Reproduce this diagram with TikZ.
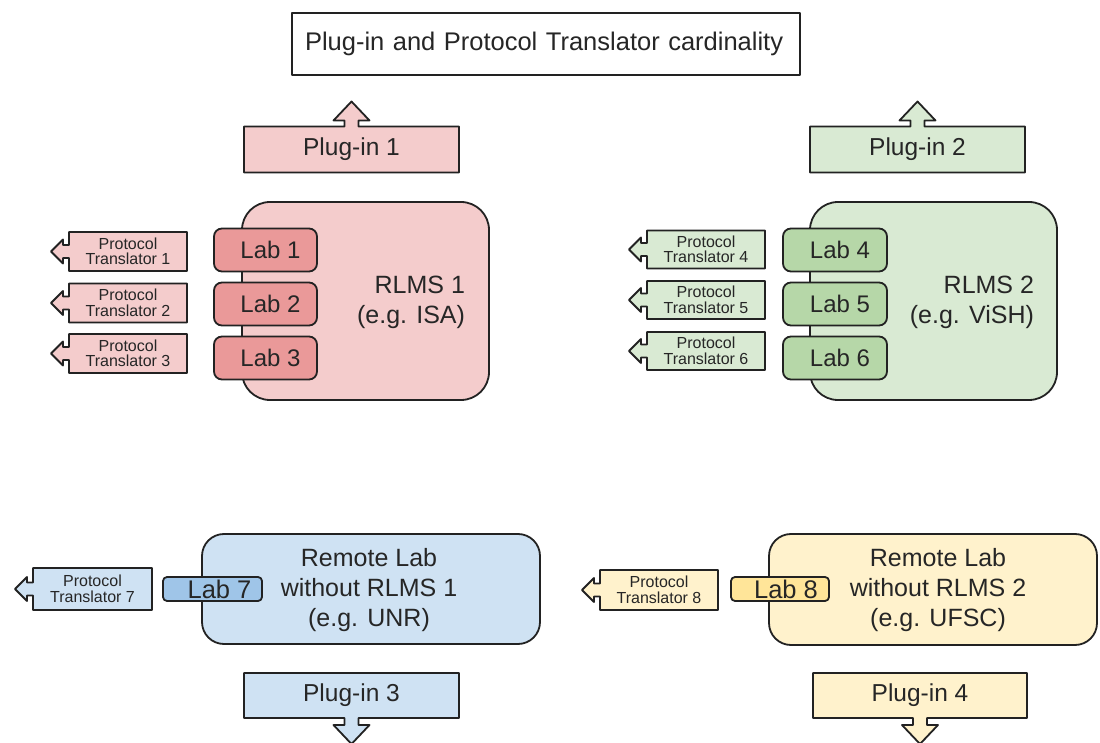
\documentclass[tikz,border=0pt]{standalone}
\usepackage{fontspec}
\setmainfont{Liberation Sans}
\usetikzlibrary{backgrounds}
\definecolor{redL}{HTML}{F4CCCC}
\definecolor{redD}{HTML}{EA9999}
\definecolor{greenL}{HTML}{D9EAD3}
\definecolor{greenD}{HTML}{B6D7A8}
\definecolor{blueL}{HTML}{CFE2F3}
\definecolor{blueD}{HTML}{9FC5E8}
\definecolor{yelL}{HTML}{FFF2CC}
\definecolor{yelD}{HTML}{FFE599}
\definecolor{edge}{HTML}{222222}
\definecolor{ink}{HTML}{262626}
\newcommand\ptshape[2]{\draw[outl, fill=#2] (#1.south west) -- (#1.south east) -- (#1.north east) -- (#1.north west) -- ([yshift=6.5pt]#1.west) -- ++(-6,0) -- ++(0,5.5) -- ++(-12,-12) -- ++(12,-12) -- ++(0,5.5) -- ++(6,0) -- cycle;}
\newcommand\plugup[2]{\draw[outl, fill=#2] (#1.south west) -- (#1.north west) -- ([xshift=-7pt]#1.north) -- ++(0,6) -- ++(-11,0) -- ++(18,19) -- ++(18,-19) -- ++(-11,0) -- ++(0,-6) -- (#1.north east) -- (#1.south east) -- cycle;}
\newcommand\plugdown[2]{\draw[outl, fill=#2] (#1.north west) -- (#1.south west) -- ([xshift=-7pt]#1.south) -- ++(0,-7) -- ++(-11,0) -- ++(18,-19) -- ++(18,19) -- ++(-11,0) -- ++(0,7) -- (#1.south east) -- (#1.north east) -- cycle;}
\begin{document}
\begin{tikzpicture}[x=1pt,y=1pt,
 box/.style={inner sep=0pt, outer sep=0pt, text=ink, align=center},
 outl/.style={draw=edge, line width=1.8pt, line join=round},
 bigbox/.style={box, outl, rounded corners=28pt, font=\fontsize{25}{30}\selectfont},
 bigtext/.style={box, font=\fontsize{25}{30}\selectfont},
 labbox/.style={box, outl, rounded corners=8pt, font=\fontsize{24}{28}\selectfont},
 smalllab/.style={box, outl, rounded corners=4pt, font=\fontsize{25.5}{28}\selectfont},
 ptbox/.style={box, font=\fontsize{16}{15.5}\selectfont, minimum width=118pt},
 plugbox/.style={box, font=\fontsize{24.5}{28}\selectfont, minimum width=215pt, minimum height=46pt},
]
\useasboundingbox (0,0) rectangle (1100,742);

% title
\node[box, outl, fill=white, minimum height=62pt, text width=482pt, inner xsep=13pt, align=left, font=\fontsize{25.5}{30}\selectfont] (title) at (546,698) {Plug-in and Protocol Translator cardinality};

% plug-ins
\node[plugbox] (p1) at (351.5,592.5) {Plug-in 1};
\node[plugbox] (p2) at (917.5,592.5) {Plug-in 2};
\node[plugbox, minimum height=45pt] (p3) at (351.5,46.5) {Plug-in 3};
\node[plugbox, minimum width=214pt, minimum height=45pt] (p4) at (920,46.5) {Plug-in 4};

% RLMS 1
\node[bigbox, fill=redL, minimum width=247pt, minimum height=198pt] (rlms1) at (365.5,441) {};
\node[bigtext, align=right, anchor=east] (rlms1t) at (465,440) {RLMS 1\\(e.g. ISA)};
\node[labbox, fill=redD, minimum width=103pt, minimum height=43pt] (lab1) at (265.5,492) {\hspace*{10pt}Lab 1};
\node[labbox, fill=redD, minimum width=103pt, minimum height=43pt] (lab2) at (265.5,438) {\hspace*{10pt}Lab 2};
\node[labbox, fill=redD, minimum width=103pt, minimum height=43pt] (lab3) at (265.5,384) {\hspace*{10pt}Lab 3};
\node[ptbox, minimum height=39pt] (pt1) at (128,490.5) {Protocol\\Translator 1};
\node[ptbox, minimum height=39pt] (pt2) at (128,439) {Protocol\\Translator 2};
\node[ptbox, minimum height=39pt] (pt3) at (128,388.5) {Protocol\\Translator 3};

% RLMS 2
\node[bigbox, fill=greenL, minimum width=247pt, minimum height=198pt] (rlms2) at (933.5,441) {};
\node[bigtext, align=right, anchor=east] (rlms2t) at (1034,440) {RLMS 2\\(e.g. ViSH)};
\node[labbox, fill=greenD, minimum width=104pt, minimum height=43pt] (lab4) at (835,492) {\hspace*{10pt}Lab 4};
\node[labbox, fill=greenD, minimum width=104pt, minimum height=43pt] (lab5) at (835,438) {\hspace*{10pt}Lab 5};
\node[labbox, fill=greenD, minimum width=104pt, minimum height=43pt] (lab6) at (835,384) {\hspace*{10pt}Lab 6};
\node[ptbox, minimum height=38pt] (pt4) at (706,492.5) {Protocol\\Translator 4};
\node[ptbox, minimum height=38pt] (pt5) at (706,442) {Protocol\\Translator 5};
\node[ptbox, minimum height=38pt] (pt6) at (706,391) {Protocol\\Translator 6};

% Remote lab 1
\node[bigbox, rounded corners=22pt, fill=blueL, minimum width=338pt, minimum height=110pt] (rl1) at (371,153) {};
\node[bigtext] (rl1t) at (369,152) {Remote Lab\\without RLMS 1\\(e.g. UNR)};
\node[smalllab, fill=blueD, minimum width=99pt, minimum height=24pt] (lab7) at (212.5,153) {\hspace*{14pt}Lab 7};
\node[ptbox, minimum width=119pt, minimum height=42pt] (pt7) at (92.5,153) {Protocol\\Translator 7};

% Remote lab 2
\node[bigbox, rounded corners=22pt, fill=yelL, minimum width=328pt, minimum height=111pt] (rl2) at (933,152.5) {};
\node[bigtext] (rl2t) at (938,152) {Remote Lab\\without RLMS 2\\(e.g. UFSC)};
\node[smalllab, fill=yelD, minimum width=98pt, minimum height=24pt] (lab8) at (780,153) {\hspace*{12pt}Lab 8};
\node[ptbox, minimum height=40pt] (pt8) at (659,152) {Protocol\\Translator 8};

\begin{scope}[on background layer]
\fill[white] (0,0) rectangle (1100,742);
\plugup{p1}{redL}
\plugup{p2}{greenL}
\plugdown{p3}{blueL}
\plugdown{p4}{yelL}
\ptshape{pt1}{redL}
\ptshape{pt2}{redL}
\ptshape{pt3}{redL}
\ptshape{pt4}{greenL}
\ptshape{pt5}{greenL}
\ptshape{pt6}{greenL}
\ptshape{pt7}{blueL}
\ptshape{pt8}{yelL}
\end{scope}
\end{tikzpicture}
\end{document}
